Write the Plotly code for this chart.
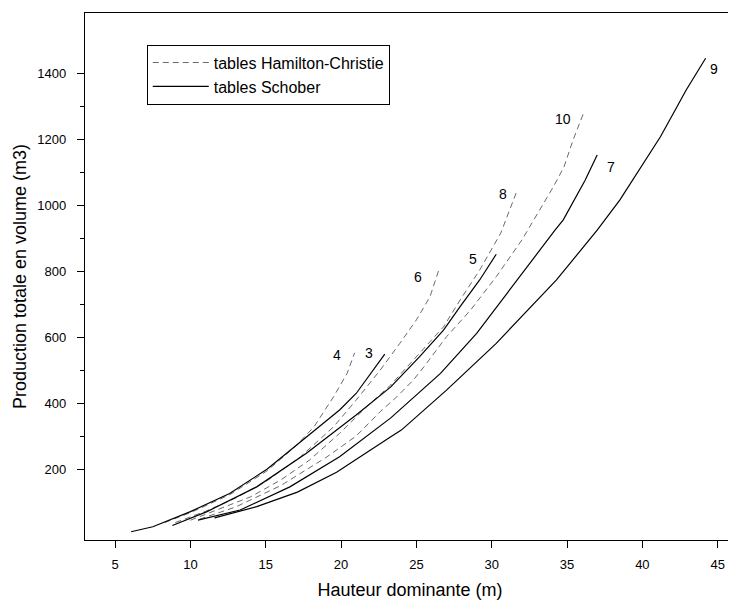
import plotly.graph_objects as go

# ---- data ----
# Hamilton-Christie tables (dashed)
hc4_h = [8.3, 10.0, 12.6, 15.1, 17.0, 18.2, 19.5, 20.4, 20.9]
hc4_v = [38, 68, 122, 195, 270, 328, 419, 490, 552]

hc6_h = [9.0, 11.0, 13.0, 15.1, 17.3, 19.5, 21.0, 22.6, 23.9, 25.0, 25.9, 26.5]
hc6_v = [38, 72, 112, 165, 237, 328, 409, 500, 581, 652, 722, 805]

hc8_h = [10.0, 12.0, 14.0, 16.0, 17.9, 19.9, 21.7, 23.3, 25.2, 26.8, 27.9, 29.2, 30.6, 31.7]
hc8_v = [45, 80, 116, 167, 227, 308, 389, 455, 551, 631, 712, 803, 915, 1046]

hc10_h = [10.6, 13.0, 16.0, 19.0, 21.0, 22.6, 23.7, 24.8, 25.5, 27.0, 28.6, 30.3, 32.0, 32.8, 34.1, 34.8, 35.4, 36.1]
hc10_v = [48, 85, 150, 235, 300, 374, 419, 470, 510, 601, 682, 783, 894, 955, 1056, 1116, 1197, 1279]

# Schober tables (solid)
sc3_h = [6.06, 7.5, 10.0, 12.6, 15.1, 17.1, 18.4, 19.9, 21.0, 22.1, 22.9]
sc3_v = [10, 25, 71, 126, 200, 275, 323, 379, 429, 500, 548]

sc5_h = [8.8, 11.1, 14.4, 17.7, 21.0, 23.3, 25.2, 26.8, 27.9, 29.2, 30.3]
sc5_v = [29, 71, 146, 248, 364, 449, 540, 621, 692, 773, 851]

sc7_h = [10.5, 13.3, 16.6, 19.9, 23.3, 26.6, 29.0, 31.0, 33.2, 34.2, 34.75, 35.4, 36.2, 37.0]
sc7_v = [45, 76, 146, 237, 355, 490, 611, 732, 864, 924, 955, 1010, 1075, 1152]

sc9_h = [11.6, 14.4, 17.1, 19.7, 23.3, 24.0, 27.0, 30.3, 34.3, 37.0, 38.5, 39.8, 41.2, 42.3, 42.9, 44.2]
sc9_v = [52, 86, 130, 190, 298, 318, 439, 581, 773, 924, 1015, 1106, 1207, 1298, 1348, 1445]

# curve labels (class numbers) and their positions
lab_text = ["4", "3", "6", "5", "8", "10", "7", "9"]
lab_x = [19.73, 21.85, 25.1, 28.76, 30.75, 34.73, 37.9, 44.75]
lab_y = [545, 552, 782, 836, 1033, 1261, 1116, 1412]

x_ticks = [5, 10, 15, 20, 25, 30, 35, 40, 45]
y_ticks = [200, 400, 600, 800, 1000, 1200, 1400]
y_minor = [300, 500, 700, 900, 1100, 1300]

FONT = "Liberation Sans, Arial, sans-serif"
DASH_COL = "#6a6a6a"

fig = go.Figure()

dashed = [(hc4_h, hc4_v), (hc6_h, hc6_v), (hc8_h, hc8_v), (hc10_h, hc10_v)]
solid = [(sc3_h, sc3_v), (sc5_h, sc5_v), (sc7_h, sc7_v), (sc9_h, sc9_v)]

for i, (h, v) in enumerate(dashed):
    fig.add_trace(go.Scatter(
        x=h, y=v, mode="lines",
        line=dict(color=DASH_COL, width=1, dash="6px,4px"),
        name="tables Hamilton-Christie", legendgroup="hc",
        showlegend=(i == 0), hoverinfo="skip"))
for i, (h, v) in enumerate(solid):
    fig.add_trace(go.Scatter(
        x=h, y=v, mode="lines",
        line=dict(color="black", width=1.2),
        name="tables Schober", legendgroup="sc",
        showlegend=(i == 0), hoverinfo="skip"))

for t, x, y in zip(lab_text, lab_x, lab_y):
    fig.add_annotation(x=x, y=y, text=t, showarrow=False,
                       font=dict(family=FONT, size=14, color="black"))

fig.update_layout(
    width=728, height=595,
    margin=dict(l=77, r=1, t=5, b=63, autoexpand=False),
    paper_bgcolor="white", plot_bgcolor="white",
    font=dict(family=FONT, color="black"),
    showlegend=True,
    legend=dict(x=0.095, y=0.94, xanchor="left", yanchor="top",
                bordercolor="black", borderwidth=1, bgcolor="white",
                itemwidth=56,
                font=dict(family=FONT, size=16), tracegroupgap=0),
    xaxis=dict(range=[3.0, 46.15], tickvals=x_ticks, ticks="outside", ticklen=7,
               tickwidth=1, tickcolor="black", showline=True, linecolor="black",
               linewidth=1.3, mirror=True, showgrid=False, zeroline=False,
               automargin=False,
               tickfont=dict(family=FONT, size=13), ticklabelstandoff=5,
               title=dict(text="Hauteur dominante (m)", font=dict(family=FONT, size=18),
                          standoff=12)),
    yaxis=dict(range=[-15, 1582], tickvals=y_ticks, ticks="outside", ticklen=7,
               tickwidth=1, tickcolor="black", showline=True, linecolor="black",
               linewidth=1.3, mirror=True, showgrid=False, zeroline=False,
               automargin=False,
               tickfont=dict(family=FONT, size=13), ticklabelstandoff=8,
               minor=dict(tickvals=y_minor, ticks="outside", ticklen=4,
                          tickcolor="black", showgrid=False),
               title=dict(text="Production totale en volume (m3)",
                          font=dict(family=FONT, size=18), standoff=6)),
)

fig.write_html("out.html")
